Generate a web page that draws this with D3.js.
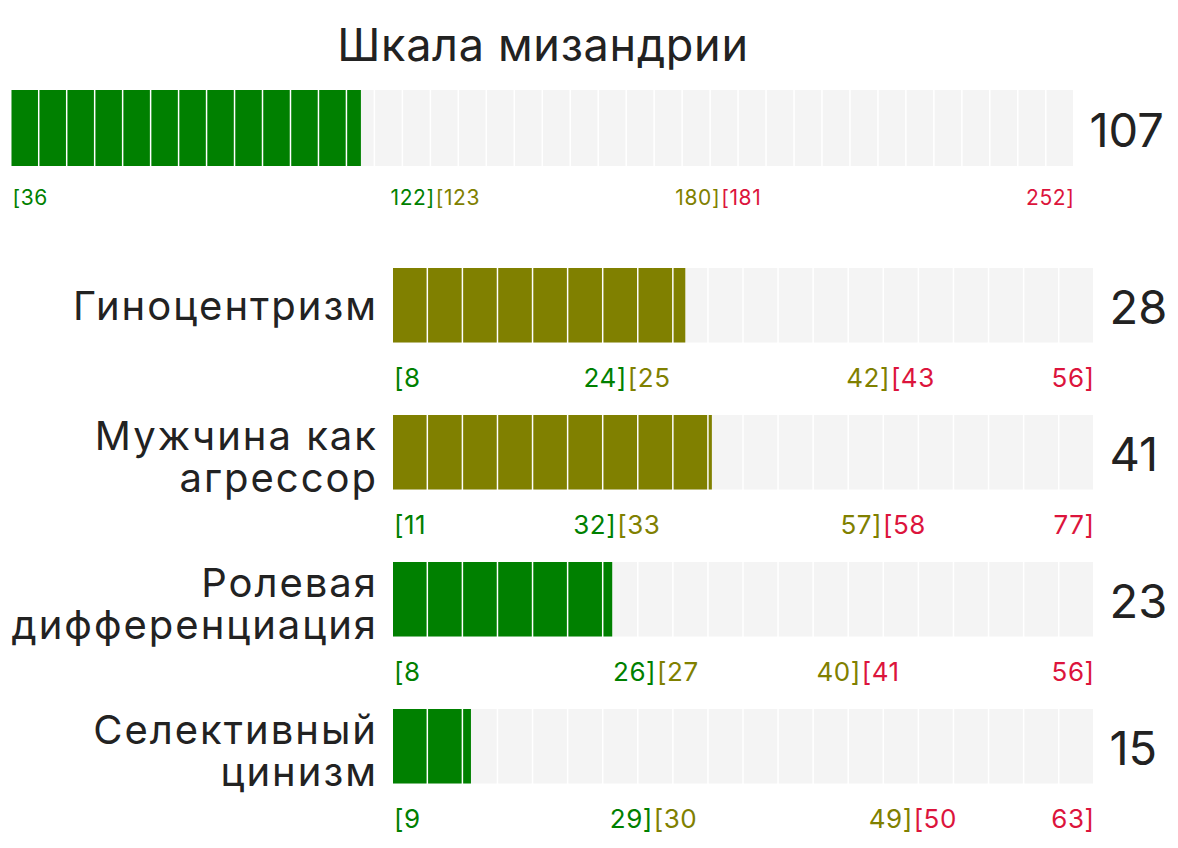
<!DOCTYPE html>
<html>
<head>
<meta charset="utf-8">
<script src="https://cdn.jsdelivr.net/npm/d3@7"></script>
<style>
  body { margin: 0; background: #fff; }
  svg { display: block; font-family: Inter, "Noto Sans", sans-serif; }
</style>
</head>
<body>
<div id="chart"></div>
<script>
// total scale
let totalTitle = 'Шкала мизандрии';
let totalRange = [36, 252];
let totalBreaks = [122, 180];
let totalValue = 107;

// subscales
let subNames = [
  ['Гиноцентризм'],
  ['Мужчина как', 'агрессор'],
  ['Ролевая', 'дифференциация'],
  ['Селективный', 'цинизм']
];
let subMin = [8, 11, 8, 9];
let subLow = [24, 32, 26, 29];
let subMid = [42, 57, 40, 49];
let subMax = [56, 77, 56, 63];
let subValues = [28, 41, 23, 15];

let zoneColors = ['#008000', '#808000', '#dc143c'];

let svg = d3.select('#chart')
  .append('svg')
  .attr('width', 1178)
  .attr('height', 848);

function zoneOf(v, low, mid) {
  if (v <= low) return 0;
  if (v <= mid) return 1;
  return 2;
}

function renderScale(options) {
  let { left, top, width, height, cells, range, breaks, value, labelSize, labelSpacing, labelGap, valueSize } = options;
  let [min, max] = range;
  let [low, mid] = breaks;

  let x = d3.scaleLinear().domain([min, max]).range([0, width]);
  let cellW = width / cells;
  let gap = 1.5;
  let fillX = x(value);
  let color = zoneColors[zoneOf(value, low, mid)];

  let g = svg.append('g')
    .attr('transform', 'translate(' + left + ',' + top + ')');

  let idx = d3.range(cells);

  g.selectAll('rect.bg')
    .data(idx)
    .enter().append('rect')
    .attr('class', 'bg')
    .attr('x', i => i * cellW)
    .attr('y', 0)
    .attr('width', cellW - gap)
    .attr('height', height)
    .attr('fill', '#f4f4f4');

  g.selectAll('rect.fill')
    .data(idx.filter(i => i * cellW < fillX))
    .enter().append('rect')
    .attr('class', 'fill')
    .attr('x', i => i * cellW)
    .attr('y', 0)
    .attr('width', i => Math.min(cellW - gap, fillX - i * cellW))
    .attr('height', height)
    .attr('fill', color);

  // range labels
  let labels = [
    { x: x(min), text: '[' + min, anchor: 'start', c: 0, dx: 1 },
    { x: x(low), text: low + ']', anchor: 'end', c: 0, dx: 0 },
    { x: x(low), text: '[' + (low + 1), anchor: 'start', c: 1, dx: 1 },
    { x: x(mid), text: mid + ']', anchor: 'end', c: 1, dx: 0 },
    { x: x(mid), text: '[' + (mid + 1), anchor: 'start', c: 2, dx: 1 },
    { x: x(max), text: max + ']', anchor: 'end', c: 2, dx: 0 }
  ];

  g.selectAll('text.range')
    .data(labels)
    .enter().append('text')
    .attr('class', 'range')
    .attr('x', d => d.x + d.dx)
    .attr('y', height + labelGap)
    .attr('text-anchor', d => d.anchor)
    .attr('font-size', labelSize)
    .attr('letter-spacing', labelSpacing)
    .attr('fill', d => zoneColors[d.c])
    .text(d => d.text);

  g.append('text')
    .attr('x', width + 15)
    .attr('y', height / 2 + valueSize * 0.4)
    .attr('font-size', valueSize)
    .attr('fill', '#222')
    .text(value);

  return g;
}

// top scale
let totalLeft = 11.5, totalWidth = 1063;
svg.append('text')
  .attr('x', totalLeft + totalWidth / 2)
  .attr('y', 61)
  .attr('text-anchor', 'middle')
  .attr('font-size', 45)
  .attr('letter-spacing', 0.7)
  .attr('fill', '#222')
  .text(totalTitle);

renderScale({
  left: totalLeft, top: 90, width: totalWidth, height: 76, cells: 38,
  range: totalRange, breaks: totalBreaks, value: totalValue,
  labelSize: 21, labelSpacing: 0.6, labelGap: 39, valueSize: 47
});

// subscales
let subLeft = 393, subWidth = 701.5, subTop = 268, subStep = 147, subHeight = 74.5;
subNames.forEach((name, i) => {
  let g = renderScale({
    left: subLeft, top: subTop + i * subStep, width: subWidth, height: subHeight, cells: 20,
    range: [subMin[i], subMax[i]], breaks: [subLow[i], subMid[i]], value: subValues[i],
    labelSize: 26, labelSpacing: 0.5, labelGap: 44, valueSize: 47
  });

  let cy = subHeight / 2;
  let lineYs = name.length === 1 ? [cy + 15] : [cy - 2, cy + 40];

  g.selectAll('text.name')
    .data(name)
    .enter().append('text')
    .attr('class', 'name')
    .attr('x', -15)
    .attr('y', (d, j) => lineYs[j])
    .attr('text-anchor', 'end')
    .attr('font-size', 40)
    .attr('letter-spacing', 2)
    .attr('fill', '#222')
    .text(d => d);
});
</script>
</body>
</html>
